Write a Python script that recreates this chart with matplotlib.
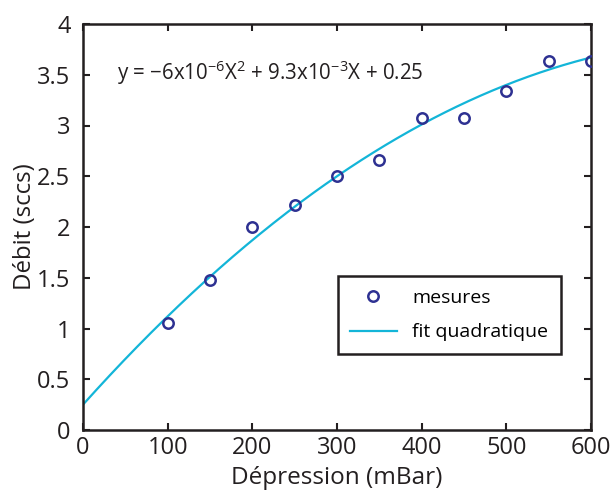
import matplotlib
matplotlib.use("Agg")
import matplotlib.pyplot as plt
import numpy as np

plt.rcParams['font.family'] = ['Open Sans', 'DejaVu Sans']
plt.rcParams['mathtext.fontset'] = 'custom'
plt.rcParams['mathtext.rm'] = 'Open Sans'
plt.rcParams['mathtext.it'] = 'Open Sans'
plt.rcParams['mathtext.default'] = 'regular'

# Data
depression = [100, 150, 200, 250, 300, 350, 400, 450, 500, 550, 600]
debit = [1.05, 1.48, 2.00, 2.22, 2.50, 2.665, 3.075, 3.075, 3.335, 3.635, 3.635]
fit_coeffs = [-6e-6, 9.3e-3, 0.25]
x_ticks = [0, 100, 200, 300, 400, 500, 600]
y_ticks = [0, 0.5, 1, 1.5, 2, 2.5, 3, 3.5, 4]
y_tick_labels = ['0', '0.5', '1', '1.5', '2', '2.5', '3', '3.5', '4']

fig = plt.figure(figsize=(6.12, 4.91), dpi=100)
ax = fig.add_axes([83/612, 1 - 430/491, (591 - 83)/612, (430 - 24)/491])

xf = np.linspace(0, 600, 300)
yf = np.polyval(fit_coeffs, xf)

ax.plot(depression, debit, 'o', markerfacecolor='none', markeredgecolor='#2e3192',
        markersize=7.5, markeredgewidth=1.8, label='mesures', zorder=3)
ax.plot(xf, yf, '-', color='#13b5d8', linewidth=1.6, label='fit quadratique', zorder=2)

ax.set_xlim(0, 600)
ax.set_ylim(0, 4)
ax.set_xticks(x_ticks)
ax.set_xticklabels([str(v) for v in x_ticks])
ax.set_yticks(y_ticks)
ax.set_yticklabels(y_tick_labels)

for s in ax.spines.values():
    s.set_linewidth(1.8)
    s.set_color('#231f20')

ax.tick_params(direction='in', length=5, width=1.5, color='#231f20',
               top=True, right=True, labelsize=17, labelcolor='#231f20')
ax.tick_params(axis='x', pad=4)
ax.tick_params(axis='y', pad=9)

ax.set_xlabel('Dépression (mBar)', fontsize=17.5, color='#231f20', labelpad=5)
ax.set_ylabel('Débit (sccs)', fontsize=17.3, color='#231f20', labelpad=0)

ax.text(40, 3.45, r'y = $-$6x10$^{-6}$X$^{2}$ + 9.3x10$^{-3}$X + 0.25',
        fontsize=14.8, color='#231f20', va='baseline')

leg = ax.legend(loc='lower right', bbox_to_anchor=(561/612, 1 - 354/491),
                bbox_transform=fig.transFigure, fontsize=14, frameon=True,
                fancybox=False, edgecolor='#231f20', framealpha=1, borderpad=0.65,
                handlelength=2.4, labelspacing=0.85, borderaxespad=0)
leg.get_frame().set_linewidth(1.8)

fig.savefig('out.png', dpi=100)
